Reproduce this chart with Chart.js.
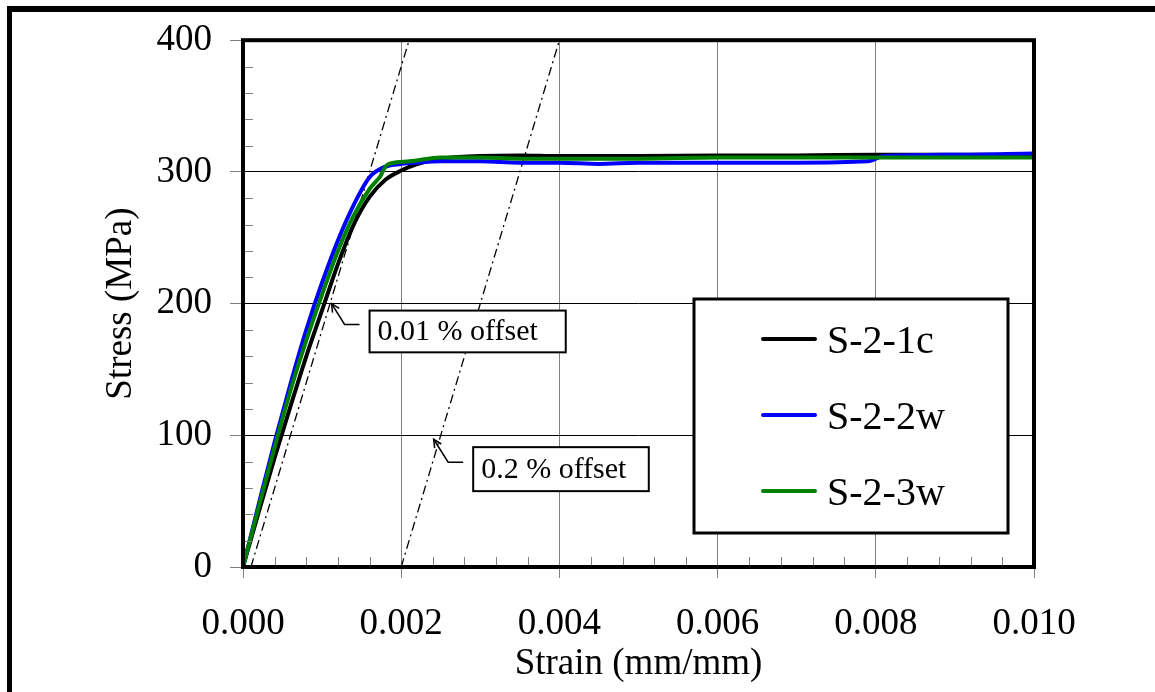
<!DOCTYPE html>
<html><head><meta charset="utf-8">
<script src="https://cdn.jsdelivr.net/npm/chart.js@4.4.1/dist/chart.umd.min.js"></script>
<style>html,body{margin:0;padding:0;background:#fff;}#wrap{width:1155px;height:692px;}</style>
</head><body><div id="wrap"><canvas id="c" width="1155" height="692"></canvas></div>
<script>
const seriesNames = ['S-2-1c', 'S-2-2w', 'S-2-3w'];
const seriesColors = ['#000000', '#0000ff', '#008000'];

const s21cStrain = [0, 0.0002, 0.0004, 0.0006, 0.0008, 0.001, 0.0012, 0.0014, 0.0016, 0.0018, 0.002, 0.0022, 0.0025, 0.003, 0.0035, 0.004, 0.005, 0.006, 0.007, 0.008, 0.009, 0.010];
const s21cStress = [0, 42, 83, 122, 160, 195, 230, 260, 281, 294, 301, 306, 310, 312, 312.5, 312, 312, 312.5, 312.5, 313, 313, 313];

const s22wStrain = [0, 0.0002, 0.0004, 0.0006, 0.0008, 0.001, 0.0012, 0.0014, 0.0016, 0.0018, 0.002, 0.0022, 0.0025, 0.003, 0.0035, 0.004, 0.0045, 0.005, 0.006, 0.007, 0.0079, 0.0081, 0.009, 0.010];
const s22wStress = [0, 48, 95, 139, 180, 216, 248, 275, 296, 304, 306, 307, 308, 308, 307, 307, 306, 307, 307, 307, 308, 312, 313, 314];

const s23wStrain = [0, 0.0002, 0.0004, 0.0006, 0.0008, 0.001, 0.0012, 0.0014, 0.0016, 0.0017, 0.00174, 0.00178, 0.00184, 0.0021, 0.0025, 0.003, 0.0035, 0.004, 0.005, 0.006, 0.007, 0.008, 0.009, 0.010];
const s23wStress = [0, 46, 91, 134, 172, 207, 240, 267, 287, 294, 297, 302, 306, 308, 311, 311, 310, 310, 310, 311, 311, 311, 311, 311];

const offset001Strain = [0.0001, 0.0021];
const offset001Stress = [0, 400];
const offset02Strain = [0.002, 0.004];
const offset02Stress = [0, 400];

const xTickLabels = ['0.000', '0.002', '0.004', '0.006', '0.008', '0.010'];
const yTickLabels = ['0', '100', '200', '300', '400'];

const annotationLabels = ['0.01 % offset', '0.2 % offset'];
const annotationTipStrain = [0.00112, 0.00241];
const annotationTipStress = [200, 97];

function pts(xs, ys) { return xs.map((x, i) => ({ x: x, y: ys[i] })); }

const FONT = "'Liberation Serif', 'Times New Roman', serif";

const decor = {
  id: 'decor',
  beforeDraw(chart) {
    const ctx = chart.ctx;
    ctx.save();
    ctx.fillStyle = '#ffffff';
    ctx.fillRect(0, 0, chart.width, chart.height);
    ctx.restore();
  },
  afterDatasetsDraw(chart, args, opts) {
    const ctx = chart.ctx;
    const a = chart.chartArea;
    const xs = chart.scales.x, ys = chart.scales.y;
    ctx.save();
    // minor ticks (inside)
    ctx.strokeStyle = '#808080';
    ctx.lineWidth = 1;
    ctx.beginPath();
    for (let k = 1; k < 20; k++) {
      if (k % 5 === 0) continue;
      const py = Math.round(ys.getPixelForValue(k * 20)) + 0.5;
      ctx.moveTo(a.left, py); ctx.lineTo(a.left + 10, py);
    }
    for (let k = 1; k < 25; k++) {
      if (k % 5 === 0) continue;
      const px = Math.round(xs.getPixelForValue(k * 0.0004)) + 0.5;
      ctx.moveTo(px, a.bottom); ctx.lineTo(px, a.bottom - 10);
    }
    ctx.stroke();
    // plot border
    ctx.strokeStyle = '#000';
    ctx.lineWidth = 4;
    ctx.strokeRect(a.left, a.top, a.right - a.left, a.bottom - a.top);
    // outer frame
    ctx.fillStyle = '#000';
    ctx.fillRect(7, 6, 5, chart.height - 6);
    ctx.fillRect(7, 6, chart.width - 7, 6);

    // annotations
    opts.boxes.forEach((b, i) => {
      const l = xs.getPixelForValue(b.left), r = xs.getPixelForValue(b.right);
      const t = ys.getPixelForValue(b.top), bt = ys.getPixelForValue(b.bottom);
      ctx.fillStyle = '#fff';
      ctx.fillRect(l, t, r - l, bt - t);
      ctx.strokeStyle = '#000';
      ctx.lineWidth = 2;
      ctx.strokeRect(l, t, r - l, bt - t);
      ctx.fillStyle = '#000';
      ctx.font = '30px ' + FONT;
      ctx.textAlign = 'left';
      ctx.textBaseline = 'middle';
      ctx.fillText(annotationLabels[i], l + 8, (t + bt) / 2 + 1);
      // arrow
      const tx = xs.getPixelForValue(annotationTipStrain[i]);
      const ty = ys.getPixelForValue(annotationTipStress[i]);
      const sy = (t + bt) / 2 - 7;
      const sx = l - 10;
      const kx = l - 25;
      ctx.lineWidth = 1.5;
      ctx.beginPath();
      ctx.moveTo(sx, sy); ctx.lineTo(kx, sy); ctx.lineTo(tx, ty);
      ctx.stroke();
      const ang = Math.atan2(ty - sy, tx - kx);
      const hl = 9;
      ctx.beginPath();
      ctx.moveTo(tx - hl * Math.cos(ang - 0.45), ty - hl * Math.sin(ang - 0.45));
      ctx.lineTo(tx, ty);
      ctx.lineTo(tx - hl * Math.cos(ang + 0.45), ty - hl * Math.sin(ang + 0.45));
      ctx.stroke();
    });

    // legend
    const L = opts.legend;
    ctx.fillStyle = '#fff';
    ctx.fillRect(L.left, L.top, L.right - L.left, L.bottom - L.top);
    ctx.strokeStyle = '#000';
    ctx.lineWidth = 3;
    ctx.strokeRect(L.left, L.top, L.right - L.left, L.bottom - L.top);
    ctx.font = '40px ' + FONT;
    ctx.textAlign = 'left';
    ctx.textBaseline = 'middle';
    seriesNames.forEach((name, i) => {
      const y = L.firstRow + i * L.rowGap;
      ctx.strokeStyle = seriesColors[i];
      ctx.lineWidth = 4;
      ctx.lineCap = 'round';
      ctx.beginPath();
      ctx.moveTo(L.lineX1, y); ctx.lineTo(L.lineX2, y);
      ctx.stroke();
      ctx.fillStyle = '#000';
      ctx.fillText(name, L.textX, y + 3);
    });
    ctx.restore();
  }
};

function lineDs(label, xs, ys, color, order) {
  return {
    label: label, data: pts(xs, ys), borderColor: color, backgroundColor: color,
    borderWidth: 4, pointRadius: 0, showLine: true, fill: false,
    borderCapStyle: 'round', borderJoinStyle: 'round',
    cubicInterpolationMode: 'monotone', order: order
  };
}
function offsetDs(xs, ys) {
  return {
    label: '', data: pts(xs, ys), borderColor: '#000', borderWidth: 1.3,
    borderDash: [9, 4, 2, 4], pointRadius: 0, showLine: true, fill: false, order: 5
  };
}

new Chart(document.getElementById('c'), {
  type: 'scatter',
  data: {
    datasets: [
      lineDs(seriesNames[0], s21cStrain, s21cStress, seriesColors[0], 3),
      lineDs(seriesNames[1], s22wStrain, s22wStress, seriesColors[1], 2),
      lineDs(seriesNames[2], s23wStrain, s23wStress, seriesColors[2], 1),
      offsetDs(offset001Strain, offset001Stress),
      offsetDs(offset02Strain, offset02Stress)
    ]
  },
  options: {
    responsive: false,
    animation: false,
    devicePixelRatio: 1,
    layout: { padding: { left: 0, top: 39, right: 121, bottom: 0 } },
    plugins: {
      legend: { display: false },
      tooltip: { enabled: false },
      decor: {
        boxes: [
          { left: 0.0016, right: 0.00408, top: 194.7, bottom: 163 },
          { left: 0.00291, right: 0.00513, top: 91, bottom: 57.6 }
        ],
        legend: { left: 694, top: 299, right: 1008, bottom: 533, firstRow: 339, rowGap: 76, lineX1: 763, lineX2: 815, textX: 827 }
      }
    },
    scales: {
      x: {
        type: 'linear', min: 0, max: 0.01,
        afterFit: s => { s.height = 125; },
        ticks: {
          stepSize: 0.002, padding: 24, color: '#000',
          font: { family: FONT, size: 37 },
          callback: (v, i) => xTickLabels[i] !== undefined ? xTickLabels[i] : v.toFixed(3),
          maxRotation: 0, autoSkip: false
        },
        grid: { color: '#808080', lineWidth: 1, tickColor: '#808080', tickLength: 11, drawTicks: true },
        border: { display: false },
        title: { display: true, text: 'Strain (mm/mm)', color: '#000', font: { family: FONT, size: 37 }, padding: { top: 0, bottom: 6 } }
      },
      y: {
        type: 'linear', min: 0, max: 400,
        afterFit: s => { s.width = 243; },
        ticks: {
          stepSize: 100, padding: 18, color: '#000',
          font: { family: FONT, size: 37 },
          callback: (v, i) => yTickLabels[i] !== undefined ? yTickLabels[i] : String(v)
        },
        grid: { color: '#000', lineWidth: 1, tickColor: '#808080', tickLength: 13, drawTicks: true },
        border: { display: false },
        title: { display: true, text: 'Stress (MPa)', color: '#000', font: { family: FONT, size: 37 }, padding: { top: 99, bottom: 0 } }
      }
    }
  },
  plugins: [decor]
});
</script></body></html>
